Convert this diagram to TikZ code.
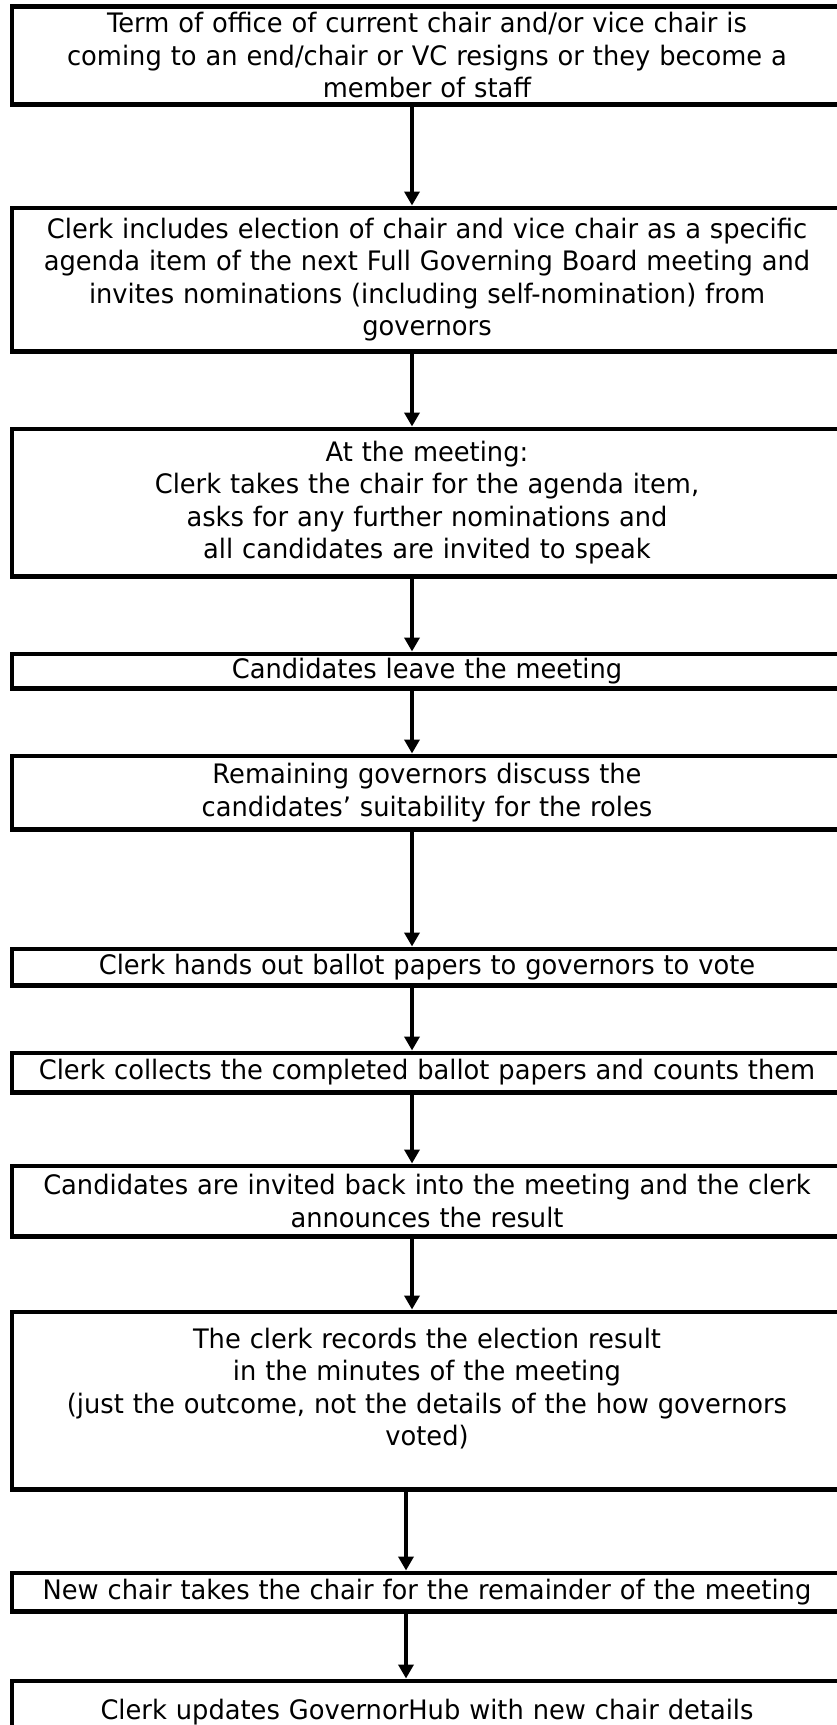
\documentclass[tikz,border=0pt]{standalone}
\usepackage{fontspec}
\setmainfont{DejaVu Sans}[FakeStretch=0.96]
\usetikzlibrary{shapes,arrows.meta,positioning}

\begin{document}
\begin{tikzpicture}[x=1pt, y=1pt, node distance=73pt, auto]

    \tikzstyle{block} = [
        rectangle,
        draw,
        line width=4.5pt,
        minimum width=830pt,
        text width=830pt,
        align=center,
        inner sep=0pt,
        font=\fontsize{26.8}{32.5}\selectfont,
    ]
    \tikzstyle{line} = [
        draw,
        line width=4pt,
        -{Triangle[width=15pt,length=14pt]},
    ]

    \useasboundingbox (0,0) rectangle (837,-1725);
    \coordinate (axis) at (412,0);
    \coordinate (axislow) at (406,0);

    \node [block, anchor=north, minimum height=98pt] (term) at (427,-4) {
        Term of office of current chair and/or vice chair is\\
        coming to an end/chair or VC resigns or they become a\\
        member of staff
    };
    \node [block, below=99pt of term, minimum height=143.5pt] (agenda) {
        Clerk includes election of chair and vice chair as a specific\\
        agenda item of the next Full Governing Board meeting and\\
        invites nominations (including self-nomination) from\\
        governors
    };
    \node [block, below=of agenda, minimum height=147.5pt] (meeting) {
        At the meeting:\\
        Clerk takes the chair for the agenda item,\\
        asks for any further nominations and\\
        all candidates are invited to speak
    };
    \node [block, below=of meeting, minimum height=34.5pt] (leave) {
        Candidates leave the meeting
    };
    \node [block, below=63pt of leave, minimum height=73.5pt] (discuss) {
        Remaining governors discuss the\\
        candidates’ suitability for the roles
    };
    \node [block, below=115pt of discuss, minimum height=36.5pt] (ballot) {
        Clerk hands out ballot papers to governors to vote
    };
    \node [block, below=63pt of ballot, minimum height=39.5pt] (count) {
        Clerk collects the completed ballot papers and counts them
    };
    \node [block, below=69pt of count, minimum height=70.5pt] (result) {
        Candidates are invited back into the meeting and the clerk\\
        announces the result
    };
    \node [block, below=71pt of result, minimum height=177.5pt] (minutes) {
        The clerk records the election result\\
        in the minutes of the meeting\\
        (just the outcome, not the details of the how governors\\
        voted)\\[-5pt]\mbox{}
    };
    \node [block, below=79pt of minutes, minimum height=38.5pt] (newchair) {
        New chair takes the chair for the remainder of the meeting
    };
    \node [block, below=65pt of newchair, minimum height=63pt] (hub) {
        Clerk updates GovernorHub with new chair details
    };

    \path [line] (term.south -| axis) -- (agenda.north -| axis);
    \path [line] (agenda.south -| axis) -- (meeting.north -| axis);
    \path [line] (meeting.south -| axis) -- (leave.north -| axis);
    \path [line] (leave.south -| axis) -- (discuss.north -| axis);
    \path [line] (discuss.south -| axis) -- (ballot.north -| axis);
    \path [line] (ballot.south -| axis) -- (count.north -| axis);
    \path [line] (count.south -| axis) -- (result.north -| axis);
    \path [line] (result.south -| axis) -- (minutes.north -| axis);
    \path [line] (minutes.south -| axislow) -- (newchair.north -| axislow);
    \path [line] (newchair.south -| axislow) -- (hub.north -| axislow);

\end{tikzpicture}
\end{document}
